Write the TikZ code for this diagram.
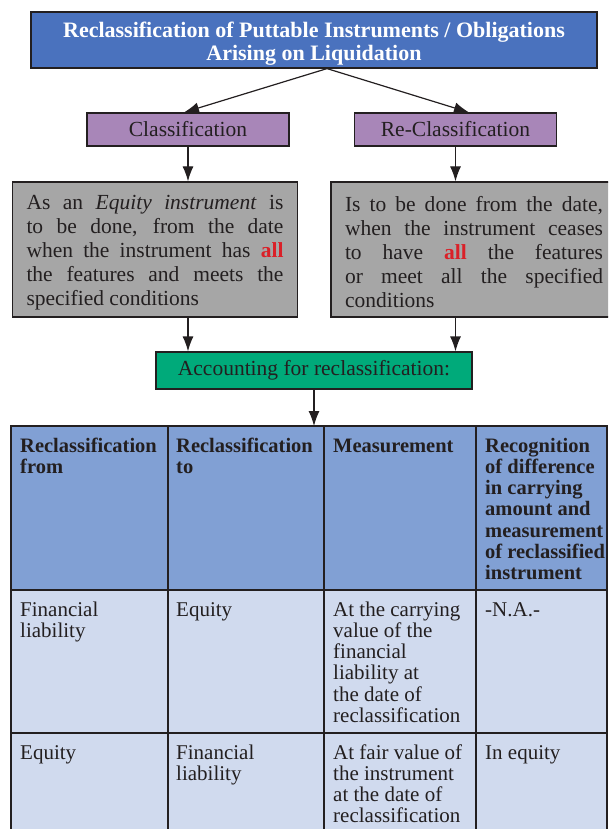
\documentclass[tikz,border=0pt]{standalone}
\usepackage{fontspec}
\setmainfont{Liberation Serif}
\usepackage{tikz}
\usetikzlibrary{positioning,arrows.meta,calc}
\definecolor{TitleBlue}{RGB}{74,114,190}
\definecolor{StepPurple}{RGB}{168,134,184}
\definecolor{NoteGray}{RGB}{166,166,166}
\definecolor{AcctGreen}{RGB}{0,170,122}
\definecolor{HeadBlue}{RGB}{129,160,212}
\definecolor{RowBlue}{RGB}{208,218,238}
\definecolor{InkDark}{RGB}{35,31,32}
\definecolor{KeyRed}{RGB}{218,32,40}
\newcommand{\boxfont}{\fontsize{21.5}{24}\selectfont}
\newcommand{\cellfont}{\fontsize{21}{21.2}\selectfont}
\newcommand{\headfont}{\fontsize{20.5}{21.2}\selectfont\bfseries}

\begin{document}
\begin{tikzpicture}[x=1pt,y=-1pt,
		every node/.style={text=InkDark},
		box/.style={draw=InkDark,line width=1.2pt,inner sep=0pt},
		arr/.style={-{Latex[length=15pt,width=11pt]},line width=1.2pt,InkDark},
		cell/.style={anchor=north west,inner sep=0pt,align=left,font=\cellfont},
		rule/.style={line width=1.3pt,InkDark}]
	\clip (0,0) rectangle (608,829);
	% title and the two branches
	\node[box,fill=TitleBlue,minimum width=566pt,minimum height=56pt,align=center,text=white,
		font=\fontsize{22}{23}\selectfont\bfseries] (title) at (314,40)
		{\rule{0pt}{22.5pt}Reclassification of Puttable Instruments / Obligations\\Arising on Liquidation};
	\node[box,fill=StepPurple,minimum width=202pt,minimum height=33pt,font=\boxfont] (cls) at (188,129.5) {Classification};
	\node[box,fill=StepPurple,minimum width=202pt,minimum height=33pt,font=\boxfont] (recls) at (455.5,129.5) {Re-Classification};
	\node[box,fill=NoteGray,text width=257pt,inner xsep=14pt,minimum height=135pt,align=justify,font=\boxfont] (clsnote) at (155,249.5)
		{\rule{0pt}{21pt}As an \emph{Equity instrument} is\linebreak to be done, from the date\linebreak when the instrument has \textcolor{KeyRed}{\textbf{all}}\linebreak the features and meets the\linebreak specified conditions};
	\node[box,fill=NoteGray,text width=258pt,inner xsep=14pt,minimum height=135pt,align=justify,font=\boxfont] (reclsnote) at (474,249.5)
		{\rule{0pt}{21pt}Is to be done from the date,\linebreak when the instrument ceases\linebreak to have \textcolor{KeyRed}{\textbf{all}} the features\linebreak or meet all the specified\linebreak conditions};
	\node[box,fill=AcctGreen,minimum width=316pt,minimum height=37pt,font=\boxfont] (acct) at (314,370.5) {Accounting for reclassification:};
	\coordinate (apex) at ($(title.south)+(13,0)$);
	\coordinate (tabtop) at (11,426);
	\draw[arr] (apex) -- ($(cls.north)+(-4,0)$);
	\draw[arr] (apex) -- ($(recls.north)+(13.5,0)$);
	\draw[arr] (cls.south) -- (cls.south |- clsnote.north);
	\draw[arr] (recls.south) -- (recls.south |- reclsnote.north);
	\draw[arr] (cls.south |- clsnote.south) -- (cls.south |- acct.north);
	\draw[arr] (recls.south |- reclsnote.south) -- (recls.south |- acct.north);
	\draw[arr] (acct.south) -- (acct.south |- tabtop);
	% table
	\fill[HeadBlue] (tabtop) rectangle (607,590);
	\fill[RowBlue] (11,590) rectangle (607,840);
	\draw[rule] (11,840) -- (tabtop) -- (607,426) -- (607,840);
	\draw[rule,line width=1.6pt] (11,590) -- (607,590);
	\draw[rule] (11,733) -- (607,733);
	\foreach \x in {168,324,476}
		\draw[rule] (\x,426) -- (\x,840);
	\node[cell,font=\headfont] (hfrom) at (20,437.2) {\strut Reclassification\\from};
	\node[cell,font=\headfont] (hto) at (176,437.2) {\strut Reclassification\\to};
	\node[cell,font=\headfont] (hmeas) at (333,437.2) {\strut Measurement};
	\node[cell,font=\headfont] (hrecog) at (485,437.2) {\strut Recognition\\of difference\\in carrying\\amount and\\measurement\\of reclassified\\instrument};
	\node[cell] (afrom) at (20,601.2) {\strut Financial\\liability};
	\node[cell] (ato) at (176,601.2) {\strut Equity};
	\node[cell] (ameas) at (333,601.2) {\strut At the carrying\\value of the\\financial\\liability at\\the date of\\reclassification};
	\node[cell] (arecog) at (485,601.2) {\strut -N.A.-};
	\node[cell] (bfrom) at (20,744.2) {\strut Equity};
	\node[cell] (bto) at (176,744.2) {\strut Financial\\liability};
	\node[cell] (bmeas) at (333,744.2) {\strut At fair value of\\the instrument\\at the date of\\reclassification};
	\node[cell] (brecog) at (485,744.2) {\strut In equity};
\end{tikzpicture}
\end{document}
